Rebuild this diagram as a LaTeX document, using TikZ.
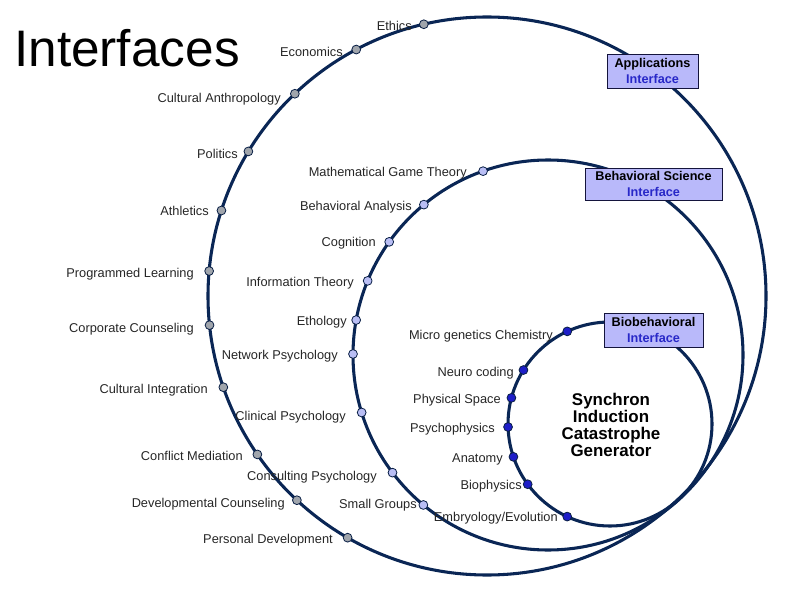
\documentclass[tikz,border=0pt]{standalone}
\usepackage{fontspec}
\setmainfont{Liberation Sans}
\usetikzlibrary{calc}
\definecolor{ringc}{RGB}{10,38,85}
\definecolor{gdotc}{RGB}{160,165,172}
\definecolor{mdotc}{RGB}{185,190,245}
\definecolor{idotc}{RGB}{30,30,200}
\definecolor{boxc}{RGB}{185,185,250}
\definecolor{boxline}{RGB}{20,20,60}
\definecolor{ifblue}{RGB}{40,40,200}
\begin{document}
\begin{tikzpicture}[x=0.75pt,y=-0.75pt,
  ring/.style={draw=ringc,line width=2.3pt},
  dotbase/.style={circle,draw=ringc!80!black,line width=0.6pt,inner sep=0,minimum size=6.6pt},
  gdot/.style={dotbase,fill=gdotc},
  mdot/.style={dotbase,fill=mdotc},
  idot/.style={dotbase,fill=idotc},
  lbl/.style={anchor=base east,inner sep=0,font=\fontsize{9.6}{11}\selectfont,text=black!85},
  ifbox/.style={draw=boxline,line width=0.6pt,fill=boxc,inner sep=0,align=center,
    font=\fontsize{9.5}{12}\selectfont\bfseries},
  title/.style={anchor=base west,inner sep=0,font=\fontsize{38.5}{40}\selectfont}
]
\useasboundingbox (0,0) rectangle (788,602);
\coordinate (Co) at (487,296);
\coordinate (Cm) at (548,355);
\coordinate (Ci) at (610,424);
% rings
\draw[ring] (Co) circle[radius=209.25pt];
\draw[ring] (Cm) circle[radius=146.25pt];
\draw[ring] (Ci) circle[radius=76.5pt];
% title
\node[title] (ttl) at (14,67) {Interfaces};
% outer dots
\path ($(Co)!209.25pt!(424,25)$) node[gdot] (d1) {};
\path ($(Co)!209.25pt!(357,51)$) node[gdot] (d2) {};
\path ($(Co)!209.25pt!(297,96)$) node[gdot] (d3) {};
\path ($(Co)!209.25pt!(251,153)$) node[gdot] (d4) {};
\path ($(Co)!209.25pt!(223,211)$) node[gdot] (d5) {};
\path ($(Co)!209.25pt!(209,271)$) node[gdot] (d6) {};
\path ($(Co)!209.25pt!(211,325)$) node[gdot] (d7) {};
\path ($(Co)!209.25pt!(224,387)$) node[gdot] (d8) {};
\path ($(Co)!209.25pt!(258,454)$) node[gdot] (d9) {};
\path ($(Co)!209.25pt!(298,499)$) node[gdot] (d10) {};
\path ($(Co)!209.25pt!(348,537)$) node[gdot] (d11) {};
\node[lbl] (l1) at (412,31) {Ethics};
\node[lbl] (l2) at (343,56.5) {Economics};
\node[lbl] (l3) at (281,103) {Cultural Anthropology};
\node[lbl] (l4) at (238,159) {Politics};
\node[lbl] (l5) at (209,216) {Athletics};
\node[lbl] (l6) at (194,277) {Programmed Learning};
\node[lbl] (l7) at (194,332) {Corporate Counseling};
\node[lbl] (l8) at (208,393) {Cultural Integration};
\node[lbl] (l9) at (243,460) {Conflict Mediation};
\node[lbl] (l10) at (285,507) {Developmental Counseling};
\node[lbl] (l11) at (333,543) {Personal Development};
% middle dots
\path ($(Cm)!146.25pt!(483,171)$) node[mdot] (m1) {};
\path ($(Cm)!146.25pt!(425,206)$) node[mdot] (m2) {};
\path ($(Cm)!146.25pt!(388,241)$) node[mdot] (m3) {};
\path ($(Cm)!146.25pt!(368,281)$) node[mdot] (m4) {};
\path ($(Cm)!146.25pt!(356,320)$) node[mdot] (m5) {};
\path ($(Cm)!146.25pt!(354,354)$) node[mdot] (m6) {};
\path ($(Cm)!146.25pt!(360,413)$) node[mdot] (m7) {};
\path ($(Cm)!146.25pt!(392,473)$) node[mdot] (m8) {};
\path ($(Cm)!146.25pt!(425,503)$) node[mdot] (m9) {};
\node[lbl] (k1) at (467,177) {Mathematical Game Theory};
\node[lbl] (k2) at (412,211) {Behavioral Analysis};
\node[lbl] (k3) at (376,247) {Cognition};
\node[lbl] (k4) at (354,286) {Information Theory};
\node[lbl] (k5) at (347,325) {Ethology};
\node[lbl] (k6) at (338,359) {Network Psychology};
\node[lbl] (k7) at (346,420) {Clinical Psychology};
\node[lbl] (k8) at (377,480) {Consulting Psychology};
\node[lbl] (k9) at (417,508) {Small Groups};
% inner dots
\path ($(Ci)!76.5pt!(568,333)$) node[idot] (n1) {};
\path ($(Ci)!76.5pt!(525,371)$) node[idot] (n2) {};
\path ($(Ci)!76.5pt!(512,398)$) node[idot] (n3) {};
\path ($(Ci)!76.5pt!(507,427)$) node[idot] (n4) {};
\path ($(Ci)!76.5pt!(513,457)$) node[idot] (n5) {};
\path ($(Ci)!76.5pt!(528,484)$) node[idot] (n6) {};
\path ($(Ci)!76.5pt!(567,517)$) node[idot] (n7) {};
\node[lbl] (j1) at (553,339) {Micro genetics Chemistry};
\node[lbl] (j2) at (514,376) {Neuro coding};
\node[lbl] (j3) at (501,403) {Physical Space};
\node[lbl] (j4) at (495,432) {Psychophysics};
\node[lbl] (j5) at (503,462) {Anatomy};
\node[lbl] (j6) at (522,489) {Biophysics};
\node[lbl] (j7) at (558,521) {Embryology/Evolution};
% interface boxes
\node[ifbox,minimum width=68.25pt,minimum height=25.5pt] (app) at (652.5,71)
  {Applications\\\textcolor{ifblue}{Interface}};
\node[ifbox,minimum width=102.75pt,minimum height=24pt] (beh) at (653.5,184)
  {Behavioral Science\\\textcolor{ifblue}{Interface}};
\node[ifbox,minimum width=74.25pt,minimum height=25.5pt] (bio) at (653.5,330)
  {Biobehavioral\\\textcolor{ifblue}{Interface}};
% center text
\node[align=center,inner sep=0,font=\fontsize{12.7}{12.9}\selectfont\bfseries] (gen) at (611,425)
  {Synchron\\Induction\\Catastrophe\\Generator};
\end{tikzpicture}
\end{document}
